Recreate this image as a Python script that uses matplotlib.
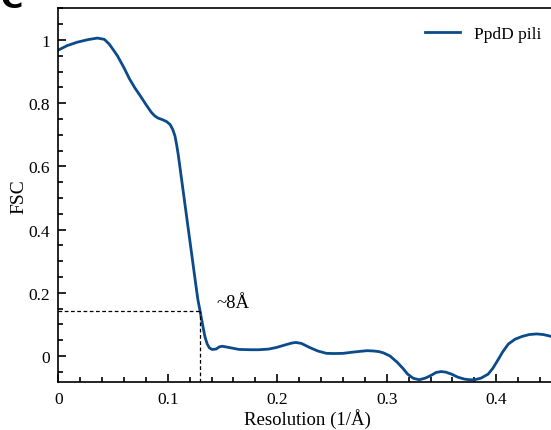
import matplotlib
matplotlib.use("Agg")
import matplotlib.pyplot as plt
from matplotlib.ticker import MultipleLocator

# FSC curve
res = [0.000, 0.008, 0.0173, 0.027, 0.0357, 0.042, 0.0465, 0.050, 0.054, 0.060,
       0.065, 0.070, 0.0757, 0.080, 0.085, 0.088, 0.091, 0.095, 0.0988, 0.102,
       0.1045, 0.1065, 0.108, 0.1095, 0.111, 0.114, 0.117, 0.120, 0.123, 0.1255, 0.1274,
       0.1296, 0.132, 0.134, 0.136, 0.138, 0.1403, 0.144, 0.147, 0.1496, 0.153, 0.159,
       0.165, 0.175, 0.183, 0.192, 0.199, 0.207, 0.213, 0.217, 0.222, 0.2296,
       0.237, 0.245, 0.252, 0.260, 0.268, 0.276, 0.282, 0.288, 0.293, 0.297,
       0.303, 0.3096, 0.315, 0.319, 0.324, 0.3296, 0.335, 0.340, 0.345, 0.3497,
       0.354, 0.359, 0.365, 0.371, 0.376, 0.380, 0.386, 0.3926, 0.397, 0.402,
       0.406, 0.411, 0.417, 0.4235, 0.430, 0.437, 0.443, 0.448, 0.455]
fsc = [0.968, 0.982, 0.993, 1.001, 1.006, 1.002, 0.987, 0.970, 0.950, 0.912,
       0.877, 0.848, 0.819, 0.796, 0.771, 0.760, 0.753, 0.748, 0.742, 0.733,
       0.717, 0.697, 0.670, 0.638, 0.600, 0.523, 0.446, 0.369, 0.292, 0.228, 0.180,
       0.140, 0.095, 0.060, 0.038, 0.026, 0.021, 0.022, 0.029, 0.031, 0.029, 0.025,
       0.021, 0.020, 0.020, 0.022, 0.027, 0.035, 0.041, 0.043, 0.040, 0.027,
       0.016, 0.0085, 0.008, 0.0085, 0.012, 0.015, 0.017, 0.016, 0.014, 0.010,
       0.000, -0.020, -0.040, -0.057, -0.070, -0.075, -0.070, -0.062, -0.052, -0.049,
       -0.051, -0.057, -0.067, -0.073, -0.075, -0.075, -0.070, -0.057, -0.038, -0.0095,
       0.014, 0.038, 0.053, 0.062, 0.068, 0.070, 0.068, 0.064, 0.057]

threshold = 0.143
cutoff = 0.129
label = "PpdD pili"
note = "~8Å"

plt.rcParams["font.family"] = ["Liberation Serif", "DejaVu Serif"]

fig = plt.figure(figsize=(5.51, 4.31), dpi=100)
ax = fig.add_axes([0.1058, 0.1107, 0.8942 + 0.01, 0.979 - 0.1107])

ax.plot(res, fsc, color="#0b4a8b", lw=2.0, label=label)
ax.plot([0, cutoff], [threshold, threshold], color="black", lw=0.9, ls=(0, (3, 2)))
ax.plot([cutoff, cutoff], [-0.083, threshold], color="black", lw=0.9, ls=(0, (3, 2)))
ax.text(0.16, 0.168, note, fontsize=13.5, ha="center", va="center")

ax.set_xlim(0, 0.455)
ax.set_ylim(-0.083, 1.101)
ax.xaxis.set_major_locator(MultipleLocator(0.1))
ax.xaxis.set_minor_locator(MultipleLocator(0.02))
ax.yaxis.set_major_locator(MultipleLocator(0.2))
ax.yaxis.set_minor_locator(MultipleLocator(0.05))
ax.xaxis.set_major_formatter(lambda v, p: "0" if abs(v) < 1e-9 else f"{v:g}")
ax.yaxis.set_major_formatter(lambda v, p: "0" if abs(v) < 1e-9 else f"{v:g}")
ax.tick_params(which="both", direction="in", labelsize=12.5, width=1.2)
ax.tick_params(axis="y", which="major", length=6, pad=6)
ax.tick_params(axis="x", which="major", length=6, pad=6)
ax.tick_params(which="minor", length=3.5)
ax.spines["right"].set_visible(False)
for s in ["left", "bottom", "top"]:
    ax.spines[s].set_linewidth(1.2)

ax.set_xlabel("Resolution (1/Å)", fontsize=13.5, labelpad=1)
ax.set_ylabel("FSC", fontsize=14, labelpad=1)
ax.legend(loc="upper right", frameon=False, fontsize=12.5, handlelength=2.0,
          bbox_to_anchor=(1.0, 0.995))

fig.text(0.0, 1.0, "C", fontsize=22, fontweight="bold", family="DejaVu Sans",
         ha="left", va="center")

fig.savefig("out.png", dpi=100)
